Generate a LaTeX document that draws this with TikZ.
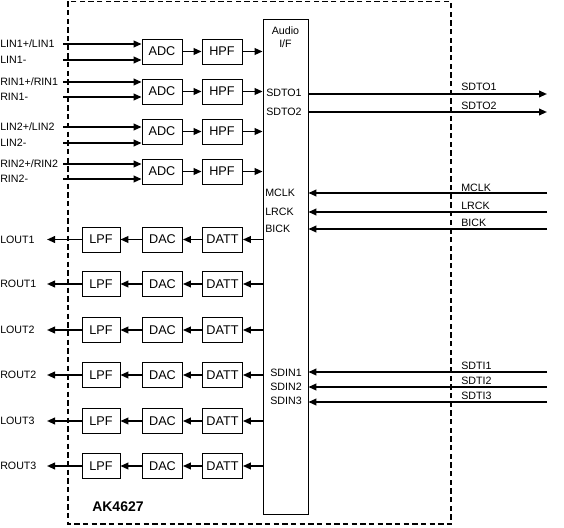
\documentclass[tikz,border=0pt]{standalone}
\usepackage{fontspec}
\setmainfont{Liberation Sans}
\usetikzlibrary{arrows.meta}
\begin{document}
\begin{tikzpicture}[x=0.75pt,y=-0.75pt,
  blk/.style={draw, line width=0.6pt, minimum width=30pt, minimum height=18.75pt, inner sep=0pt, font=\fontsize{9.5}{11}\selectfont},
  sig/.style={line width=1.3pt, -{Triangle[length=6pt,width=5pt]}},
  port/.style={font=\fontsize{8}{9.75}\selectfont, inner sep=0pt},
  frame/.style={line width=1.1pt, dash pattern=on 4pt off 2.5pt}]
\useasboundingbox (0,0) rectangle (564,528);
\draw[frame] (68,1.5) rectangle (451,524);
% Audio I/F
\node[draw, line width=0.6pt, minimum width=33.75pt, minimum height=371.25pt, inner sep=0pt] (aif) at (285.5,266.5) {};
\node[port, align=center] (aiflab) at (285.5,37) {Audio\\I/F};
\node[port, anchor=west] (psdto1) at (266,93) {SDTO1};
\node[port, anchor=west] (psdto2) at (266,112) {SDTO2};
\node[port, anchor=west] (pmclk) at (265,193) {MCLK};
\node[port, anchor=west] (plrck) at (265,212) {LRCK};
\node[port, anchor=west] (pbick) at (265,229) {BICK};
\node[port, anchor=west] (psdin1) at (270,373) {SDIN1};
\node[port, anchor=west] (psdin2) at (270,387) {SDIN2};
\node[port, anchor=west] (psdin3) at (270,401) {SDIN3};
% ADC rows
\node[blk] (adc1) at (162,51.5) {ADC};
\node[blk] (hpf1) at (222,51.5) {HPF};
\node[blk] (adc2) at (162,91.5) {ADC};
\node[blk] (hpf2) at (222,91.5) {HPF};
\node[blk] (adc3) at (162,131.5) {ADC};
\node[blk] (hpf3) at (222,131.5) {HPF};
\node[blk] (adc4) at (162,171.5) {ADC};
\node[blk] (hpf4) at (222,171.5) {HPF};
\foreach \n in {1,2,3,4}{
  \draw[sig] (adc\n) -- (hpf\n);
  \draw[sig] (hpf\n) -- (hpf\n -| aif.west);
}
\node[port, anchor=west] (lin1p) at (0,44) {LIN1+/LIN1};
\node[port, anchor=west] (lin1m) at (0,60) {LIN1-};
\node[port, anchor=west] (rin1p) at (0,82) {RIN1+/RIN1};
\node[port, anchor=west] (rin1m) at (0,97) {RIN1-};
\node[port, anchor=west] (lin2p) at (0,127) {LIN2+/LIN2};
\node[port, anchor=west] (lin2m) at (0,143) {LIN2-};
\node[port, anchor=west] (rin2p) at (0,164) {RIN2+/RIN2};
\node[port, anchor=west] (rin2m) at (0,179) {RIN2-};
\foreach \c/\y/\a in {a/44/adc1, b/60/adc1, c/82/adc2, d/97/adc2, e/127/adc3, f/143/adc3, g/164/adc4, h/179/adc4}{
  \coordinate (s\c) at (63,\y);
  \draw[sig] (s\c) -- (s\c -| \a.west);
}
% DAC rows
\foreach \n/\y/\t in {1/239.5/LOUT1, 2/284/ROUT1, 3/330/LOUT2, 4/375/ROUT2, 5/421/LOUT3, 6/466/ROUT3}{
  \node[blk, minimum width=28.5pt] (lpf\n) at (101,\y) {LPF};
  \node[blk] (dac\n) at (162.5,\y) {DAC};
  \node[blk] (datt\n) at (222.5,\y) {DATT};
  \node[port, anchor=west] (out\n) at (0,\y) {\t};
  \coordinate (oe\n) at (47,\y);
  \draw[sig] (datt\n -| aif.west) -- (datt\n);
  \draw[sig] (datt\n) -- (dac\n);
  \draw[sig] (dac\n) -- (lpf\n);
  \draw[sig] (lpf\n) -- (oe\n);
}
% external serial lines
\coordinate (esdto1) at (547,94);
\coordinate (esdto2) at (547,112);
\draw[sig] (aif.east |- esdto1) -- (esdto1);
\draw[sig] (aif.east |- esdto2) -- (esdto2);
\node[port, anchor=west] (lsdto1) at (461,87) {SDTO1};
\node[port, anchor=west] (lsdto2) at (461,106) {SDTO2};
\foreach \c/\y/\ly/\t in {mclk/193/188/MCLK, lrck/212/206/LRCK, bick/229/223/BICK, sdti1/372/366/SDTI1, sdti2/387/381/SDTI2, sdti3/402/396/SDTI3}{
  \coordinate (e\c) at (547,\y);
  \draw[sig] (e\c) -- (aif.east |- e\c);
  \node[port, anchor=west] (l\c) at (461,\ly) {\t};
}
\node[font=\bfseries\fontsize{10.5}{12}\selectfont, anchor=west, inner sep=0pt] (chip) at (92,507) {AK4627};
\end{tikzpicture}
\end{document}
